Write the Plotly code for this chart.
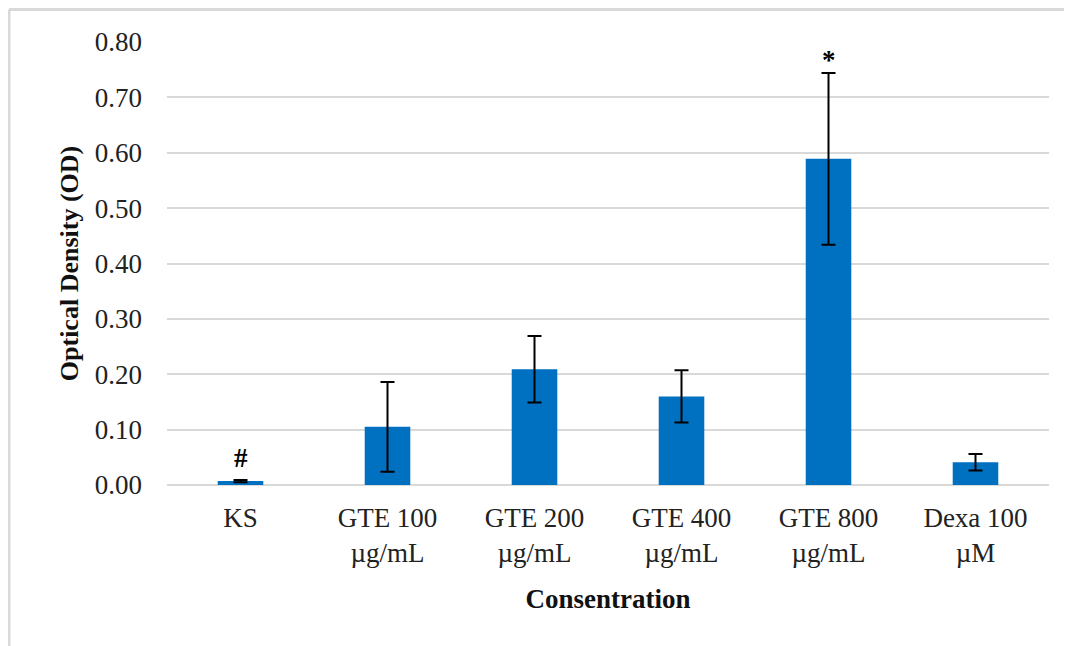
import plotly.graph_objects as go

categories = ["KS", "GTE 100<br>µg/mL", "GTE 200<br>µg/mL", "GTE 400<br>µg/mL", "GTE 800<br>µg/mL", "Dexa 100<br>µM"]
values = [0.007, 0.105, 0.209, 0.160, 0.589, 0.041]
errors = [0.002, 0.081, 0.060, 0.047, 0.155, 0.015]
marks = ["#", "", "", "", "*", ""]
tick_vals = [0.0, 0.1, 0.2, 0.3, 0.4, 0.5, 0.6, 0.7, 0.8]
tick_text = ["0.00", "0.10", "0.20", "0.30", "0.40", "0.50", "0.60", "0.70", "0.80"]

FONT = "Liberation Serif"

fig = go.Figure()
fig.add_trace(go.Bar(
    x=categories, y=values,
    marker=dict(color="#0070C0", line=dict(width=0)),
    error_y=dict(type="data", array=errors, visible=True, color="black", thickness=2, width=7),
    width=0.31,
))

for c, v, e, m in zip(categories, values, errors, marks):
    if m:
        fig.add_annotation(x=c, y=v + e, text="<b>%s</b>" % m, showarrow=False,
                           yanchor="bottom", yshift=5 if m == "#" else -4,
                           font=dict(family=FONT, size=27, color="black"))

# page is offset by the 8px body margin
W, H = 1064, 638
L, R, T, B = 159, 23, 34, 161
pw = W - L - R
ph = H - T - B
def px(x):
    return (x - L) / pw
def py(y):
    return (H - B - y) / ph

fig.add_shape(type="line", xref="paper", yref="paper", x0=px(1), x1=px(W), y0=py(1.5), y1=py(1.5),
              line=dict(color="#d9d9d9", width=3))
fig.add_shape(type="line", xref="paper", yref="paper", x0=px(1), x1=px(1), y0=py(1.5), y1=py(H),
              line=dict(color="#d9d9d9", width=3))

fig.update_layout(
    width=W, height=H,
    margin=dict(l=L, r=R, t=T, b=B),
    paper_bgcolor="white", plot_bgcolor="white",
    showlegend=False,
    font=dict(family=FONT, size=27, color="#222"),
    xaxis=dict(showgrid=False, showline=False, ticks="", ticklabelstandoff=14,
               tickfont=dict(size=27, color="#222"),
               title=dict(text="<b>Consentration</b>", font=dict(size=27, color="#111"), standoff=22)),
    yaxis=dict(range=[0, 0.8], tickvals=tick_vals, ticktext=tick_text, showgrid=True,
               gridcolor="#d9d9d9", gridwidth=2, zeroline=True, zerolinecolor="#d9d9d9", zerolinewidth=2,
               ticks="", ticklabelstandoff=24, tickfont=dict(size=27, color="#222"),
               title=dict(text="<b>Optical Density (OD)</b>", font=dict(size=26, color="#111"), standoff=8)),
)

fig.write_html("out.html")
